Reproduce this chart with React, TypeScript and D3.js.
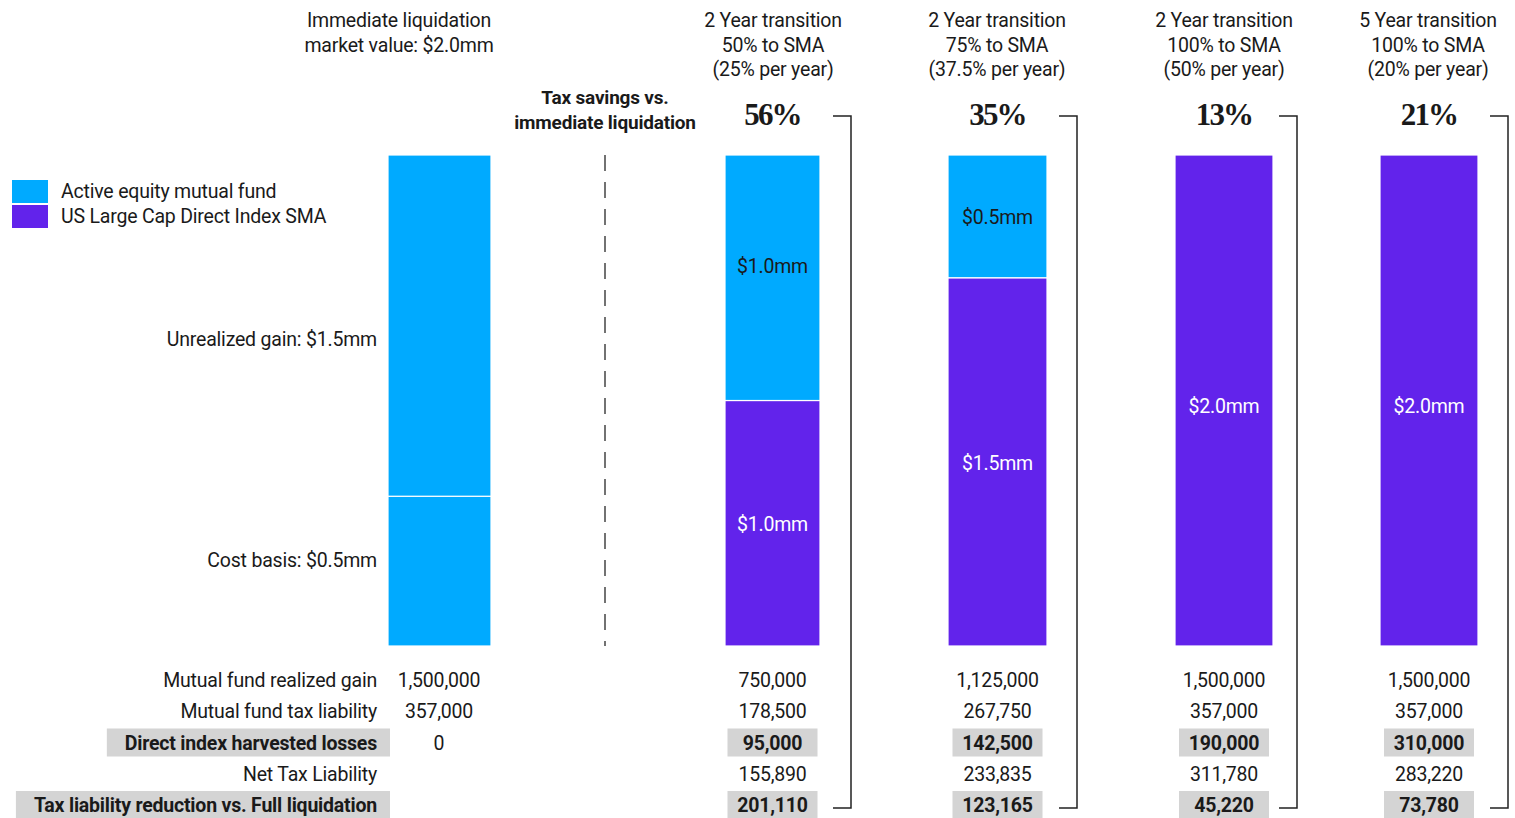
import React, { useEffect, useRef } from "react";
import * as d3 from "d3";

// ---------- data ----------
const scenarioIds = ["liq", "t2y50", "t2y75", "t2y100", "t5y100"];
const headerLines: string[][] = [
  ["Immediate liquidation", "market value: $2.0mm"],
  ["2 Year transition", "50% to SMA", "(25% per year)"],
  ["2 Year transition", "75% to SMA", "(37.5% per year)"],
  ["2 Year transition", "100% to SMA", "(50% per year)"],
  ["5 Year transition", "100% to SMA", "(20% per year)"],
];
const taxSavings = ["", "56%", "35%", "13%", "21%"];
// stacked bar values ($mm), bottom = SMA, top = mutual fund
const smaValues = [0, 1.0, 1.5, 2.0, 2.0];
const fundValues = [2.0, 1.0, 0.5, 0, 0];
const smaLabels = ["", "$1.0mm", "$1.5mm", "$2.0mm", "$2.0mm"];
const fundLabels = ["", "$1.0mm", "$0.5mm", "", ""];
// first bar split as drawn (cost basis bottom, unrealized gain top)
const liquidationParts = [
  { label: "Cost basis: $0.5mm", value: 0.61, labelAt: 0.35 },
  { label: "Unrealized gain: $1.5mm", value: 1.39, labelAt: 1.25 },
];
const rowLabels = [
  "Mutual fund realized gain",
  "Mutual fund tax liability",
  "Direct index harvested losses",
  "Net Tax Liability",
  "Tax liability reduction vs. Full liquidation",
];
const rowHighlighted = [false, false, true, false, true];
const tableValues: (string | null)[][] = [
  ["1,500,000", "750,000", "1,125,000", "1,500,000", "1,500,000"],
  ["357,000", "178,500", "267,750", "357,000", "357,000"],
  ["0", "95,000", "142,500", "190,000", "310,000"],
  [null, "155,890", "233,835", "311,780", "283,220"],
  [null, "201,110", "123,165", "45,220", "73,780"],
];
const legendItems = [
  { label: "Active equity mutual fund", key: "fund" },
  { label: "US Large Cap Direct Index SMA", key: "sma" },
];

const BLUE = "#00AAFF";
const PURPLE = "#6223EB";
const TEXT = "#1a1a1a";
const GRAY = "#d4d4d4";
const SANS = "Roboto, 'Noto Sans', sans-serif";
const SERIF = "'Liberation Serif', 'DejaVu Serif', serif";
const LS = -0.2;

export default function App() {
  const ref = useRef<SVGSVGElement | null>(null);

  useEffect(() => {
    const svg = d3.select(ref.current);
    svg.selectAll("*").remove();

    const y = d3.scaleLinear().domain([0, 2.0]).range([646, 155]);
    const colX = d3
      .scaleOrdinal<string, number>()
      .domain(scenarioIds)
      .range([439.5, 772.5, 997.5, 1224, 1429]);
    const barW = d3
      .scaleOrdinal<string, number>()
      .domain(scenarioIds)
      .range([103, 95, 99, 98, 98]);
    const headerX = d3
      .scaleOrdinal<string, number>()
      .domain(scenarioIds)
      .range([399, 773, 997, 1224, 1428]);
    const rowY = d3.scalePoint<number>().domain(d3.range(5)).range([680, 805]);
    const color = d3.scaleOrdinal<string, string>().domain(["fund", "sma"]).range([BLUE, PURPLE]);

    const g = svg.append("g").attr("letter-spacing", LS);

    // headers
    scenarioIds.forEach((id, i) => {
      const t = g
        .append("text")
        .attr("x", headerX(id))
        .attr("text-anchor", "middle")
        .attr("font-family", SANS)
        .attr("font-size", 19.5)
        .attr("fill", TEXT);
      headerLines[i].forEach((line, j) => {
        t.append("tspan")
          .attr("x", headerX(id))
          .attr("y", 27 + j * 24.5)
          .text(line);
      });
      if (taxSavings[i]) {
        g.append("text")
          .attr("x", colX(id))
          .attr("y", 125)
          .attr("text-anchor", "middle")
          .attr("font-family", SERIF)
          .attr("font-weight", "bold")
          .attr("font-size", 31)
          .attr("letter-spacing", -1.8)
          .attr("fill", TEXT)
          .text(taxSavings[i]);
      }
    });

    // tax savings label
    const ts = g
      .append("text")
      .attr("text-anchor", "middle")
      .attr("font-family", SANS)
      .attr("font-weight", "bold")
      .attr("font-size", 19)
      .attr("fill", TEXT);
    ["Tax savings vs.", "immediate liquidation"].forEach((l, j) =>
      ts.append("tspan").attr("x", 605).attr("y", 104 + j * 24.5).text(l)
    );

    // dashed divider
    g.append("line")
      .attr("x1", 605)
      .attr("x2", 605)
      .attr("y1", y(2.0))
      .attr("y2", y(0))
      .attr("stroke", "#444")
      .attr("stroke-width", 1.5)
      .attr("stroke-dasharray", "16,11");

    // legend
    legendItems.forEach((it, i) => {
      g.append("rect")
        .attr("x", 12)
        .attr("y", 180 + i * 25)
        .attr("width", 36)
        .attr("height", 23)
        .attr("fill", color(it.key));
      g.append("text")
        .attr("x", 61)
        .attr("y", 198 + i * 24.5)
        .attr("font-family", SANS)
        .attr("font-size", 19.5)
        .attr("fill", TEXT)
        .text(it.label);
    });

    // first bar
    const id0 = scenarioIds[0];
    let acc = 0;
    liquidationParts.forEach((p) => {
      const y0 = y(acc + p.value);
      const y1 = y(acc);
      g.append("rect")
        .attr("x", colX(id0) - barW(id0) / 2)
        .attr("y", y0)
        .attr("width", barW(id0))
        .attr("height", y1 - y0)
        .attr("fill", BLUE)
        .attr("stroke", "#fff")
        .attr("stroke-width", 1.2);
      g.append("text")
        .attr("x", 377)
        .attr("y", y(p.labelAt) + 7)
        .attr("text-anchor", "end")
        .attr("font-family", SANS)
        .attr("font-size", 19.5)
        .attr("fill", TEXT)
        .text(p.label);
      acc += p.value;
    });

    // stacked bars for transitions
    scenarioIds.slice(1).forEach((id, k) => {
      const i = k + 1;
      const segs = [
        { v0: 0, v1: smaValues[i], fill: PURPLE, label: smaLabels[i] },
        { v0: smaValues[i], v1: smaValues[i] + fundValues[i], fill: BLUE, label: fundLabels[i] },
      ];
      segs.forEach((s) => {
        if (s.v1 - s.v0 <= 0) return;
        const y0 = y(s.v1);
        const y1 = y(s.v0);
        g.append("rect")
          .attr("x", colX(id) - barW(id) / 2)
          .attr("y", y0)
          .attr("width", barW(id))
          .attr("height", y1 - y0)
          .attr("fill", s.fill)
          .attr("stroke", "#fff")
          .attr("stroke-width", 1.2);
        if (s.label) {
          const mid = (y0 + y1) / 2;
          const h = y1 - y0;
          let ly = mid + 1;
          if (s.fill === BLUE && h > 200) ly = mid - 12;
          if (s.fill === PURPLE && h > 400) ly = mid + 5;
          g.append("text")
            .attr("x", colX(id))
            .attr("y", ly + 7)
            .attr("text-anchor", "middle")
            .attr("font-family", SANS)
            .attr("font-size", 19.5)
            .attr("fill", s.fill === PURPLE ? "#ffffff" : TEXT)
            .text(s.label);
        }
      });
    });

    // table
    rowLabels.forEach((lab, r) => {
      const yy = rowY(r)!;
      const bold = rowHighlighted[r];
      const t = g
        .append("text")
        .attr("x", 377)
        .attr("y", yy + 7)
        .attr("text-anchor", "end")
        .attr("font-family", SANS)
        .attr("font-weight", bold ? "bold" : "normal")
        .attr("font-size", 19.5)
        .attr("fill", TEXT)
        .text(lab);
      if (bold) {
        const bb = (t.node() as SVGTextElement).getBBox();
        const left = Math.max(10, bb.x - 18);
        g.insert("rect", "text")
          .attr("x", left)
          .attr("y", yy - 14)
          .attr("width", 390 - left)
          .attr("height", 28)
          .attr("fill", GRAY);
      }
      scenarioIds.forEach((id, c) => {
        const v = tableValues[r][c];
        if (v == null) return;
        const hl = bold && c > 0;
        if (hl) {
          g.append("rect")
            .attr("x", colX(id) - 45)
            .attr("y", yy - 14)
            .attr("width", 90)
            .attr("height", 28)
            .attr("fill", GRAY);
        }
        g.append("text")
          .attr("x", colX(id) - (c === 0 ? 0.5 : 0))
          .attr("y", yy + 7)
          .attr("text-anchor", "middle")
          .attr("font-family", SANS)
          .attr("font-weight", hl ? "bold" : "normal")
          .attr("font-size", 19.5)
          .attr("fill", TEXT)
          .text(v);
      });
    });

    // brackets
    const bracketX = [851, 1077, 1297, 1508];
    scenarioIds.slice(1).forEach((id, k) => {
      const bx = bracketX[k];
      g.append("path")
        .attr("d", `M${bx - 18},116 H${bx} V${rowY(4)! + 3} H${bx - 18}`)
        .attr("fill", "none")
        .attr("stroke", "#222")
        .attr("stroke-width", 1.5);
    });
  }, []);

  return (
    <svg
      ref={ref}
      width={1515}
      height={818}
      style={{ position: "absolute", left: 0, top: 0, background: "#fff" }}
    />
  );
}
